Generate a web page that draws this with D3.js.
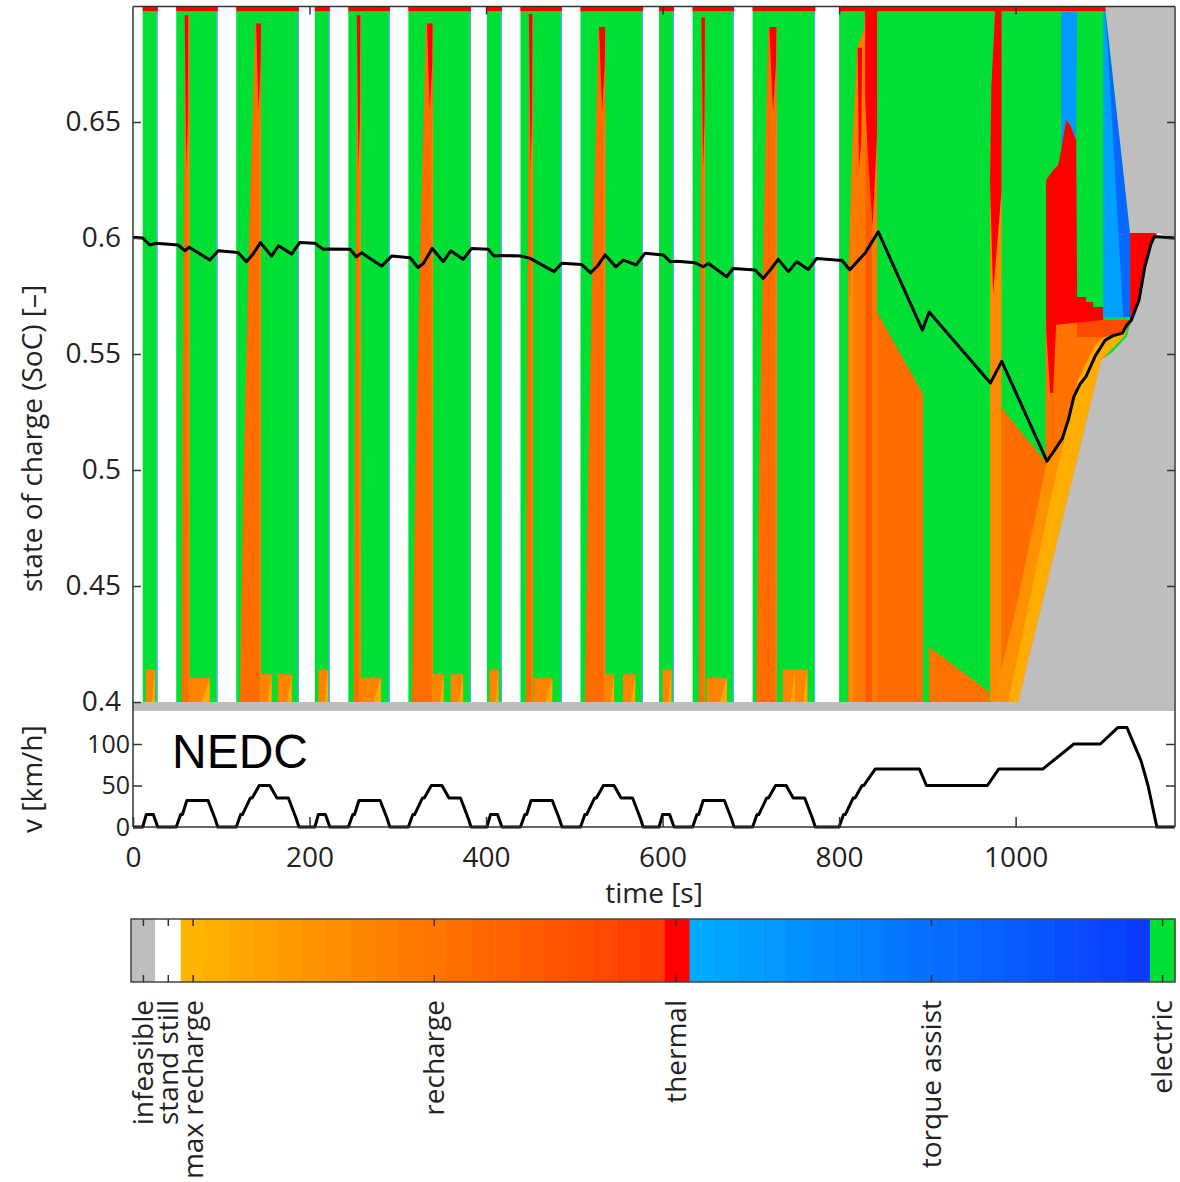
<!DOCTYPE html>
<html>
<head>
<meta charset="utf-8">
<title>Optimal mode map on the NEDC</title>
<script src="https://cdn.jsdelivr.net/npm/d3@7"></script>
<style>
    body { margin: 0; background: #fff; }
    text { font-family: "Open Sans", sans-serif; fill: #222; }
</style>
</head>
<body>
<script>

// NEDC speed profile, time [s] and speed [km/h]
var vTime = [
    0, 11, 15, 23, 28, 49, 54, 56, 61, 85, 93, 96, 117, 122, 124, 133, 135, 143, 155, 163, 176, 185, 188,
    195, 206, 210, 218, 223, 244, 249, 251, 256, 280, 288, 291, 312, 317, 319, 328, 330, 338, 350, 358, 371, 380, 383,
    390, 401, 405, 413, 418, 439, 444, 446, 451, 475, 483, 486, 507, 512, 514, 523, 525, 533, 545, 553, 566, 575, 578,
    585, 596, 600, 608, 613, 634, 639, 641, 646, 670, 678, 681, 702, 707, 709, 718, 720, 728, 740, 748, 761, 770, 773,
    780, 800, 805, 807, 816, 818, 826, 828, 841, 891, 899, 968, 981, 1031, 1066, 1096, 1116, 1126, 1142, 1150, 1160, 1180]
var vSpeed = [
    0, 0, 15, 15, 0, 0, 15, 15, 32, 32, 10, 0, 0, 15, 15, 35, 35, 50, 50, 35, 35, 10, 0,
    0, 0, 15, 15, 0, 0, 15, 15, 32, 32, 10, 0, 0, 15, 15, 35, 35, 50, 50, 35, 35, 10, 0,
    0, 0, 15, 15, 0, 0, 15, 15, 32, 32, 10, 0, 0, 15, 15, 35, 35, 50, 50, 35, 35, 10, 0,
    0, 0, 15, 15, 0, 0, 15, 15, 32, 32, 10, 0, 0, 15, 15, 35, 35, 50, 50, 35, 35, 10, 0,
    0, 0, 15, 15, 35, 35, 50, 50, 70, 70, 50, 50, 70, 70, 100, 100, 120, 120, 80, 50, 0, 0]

// optimal state of charge trajectory
var socTime = [
    0, 11, 19, 26, 51, 58.8, 63.7, 87, 96.6, 119, 128.5, 136, 144.5, 157, 165, 179.6, 189,
    206, 215.6, 223, 246, 253, 259, 281.6, 293, 314, 323, 329, 339, 351.5, 360, 374, 383.6,
    402.5, 409, 417.6, 440, 450, 477, 485.7, 508, 518.5, 526, 535, 547, 555.6, 570, 580,
    601, 608.5, 616, 637, 646, 652, 672.6, 680, 704.8, 714, 722, 731, 742.6, 752, 765, 774.6,
    803.4, 812, 820.5, 830, 844.3, 894.4, 902, 971.4, 984.3, 1035.5, 1044, 1052.8, 1060, 1066,
    1073, 1080, 1090, 1101.5, 1110, 1121, 1126, 1131, 1139.8, 1146.4, 1153, 1157, 1180]
var socValue = [
    0.6003, 0.6, 0.597, 0.5977, 0.597, 0.5945, 0.596, 0.5905, 0.5945, 0.5938, 0.5898, 0.5931, 0.598, 0.5922, 0.5967, 0.5931, 0.5981,
    0.5977, 0.5951, 0.5953, 0.5951, 0.5919, 0.5936, 0.5879, 0.5922, 0.5915, 0.5873, 0.589, 0.5955, 0.5898, 0.5945, 0.5908, 0.5955,
    0.5952, 0.5922, 0.5925, 0.5922, 0.5912, 0.5855, 0.5891, 0.5886, 0.585, 0.5878, 0.5927, 0.5876, 0.5905, 0.5884, 0.5934,
    0.5927, 0.5898, 0.59, 0.5893, 0.5876, 0.589, 0.5833, 0.5869, 0.5862, 0.5826, 0.5862, 0.5908, 0.5855, 0.5898, 0.5864, 0.5912,
    0.5903, 0.5863, 0.5898, 0.5938, 0.6027, 0.5603, 0.5681, 0.5375, 0.5468, 0.5038, 0.5085, 0.5135, 0.522, 0.5316,
    0.537, 0.5405, 0.549, 0.556, 0.5578, 0.559, 0.5625, 0.5645, 0.5733, 0.5876, 0.597, 0.6006, 0.6]

// urban part: recharge patches at low SoC [t start, t end, SoC top]
var lowPatches = [
    [14.6, 25, 0.4142], [61, 87, 0.4103], [145, 157, 0.412], [164, 180, 0.412],
    [210, 221, 0.414], [256, 281, 0.4103], [340, 352, 0.412], [360, 374, 0.412],
    [404, 414, 0.414], [454, 475, 0.4103], [535, 545, 0.412], [555, 569, 0.412],
    [600, 610, 0.414], [650, 673, 0.4103], [736, 750, 0.414], [750, 764, 0.414]]

// urban part: recharge spikes during accelerations
// [t bottom, t top, t end, SoC top, thermal t0, thermal t1, thermal lowest SoC]
var spikes = [
    [55, 59, 64, 0.696, 58.5, 62.5, 0.63], [121, 138.5, 145, 0.6925, 139.5, 145, 0.655],
    [250, 254, 258, 0.696, 253.5, 257.5, 0.63], [316, 332, 340, 0.6925, 333, 339.5, 0.655],
    [445, 449, 453, 0.6965, 448.5, 452.5, 0.63], [512, 527.5, 535, 0.691, 528, 535, 0.655],
    [641, 644.5, 648, 0.695, 644, 648, 0.63], [706, 719.7, 729.4, 0.6909, 721, 729, 0.655]]

// extra-urban part: mode regions [mode, level, [t, SoC] corners]
var eudcRegions = [
    ['recharge', 0.5, [[810, 0.4], [810, 0.58], [815, 0.64], [820.5, 0.682], [828.5, 0.69], [829.5, 0.6995], [843, 0.6995], [843, 0.4]]],
    ['recharge', 0.3, [[812, 0.4], [816, 0.4], [816, 0.6], [812, 0.57]]],
    ['recharge', 0.75, [[830, 0.4], [837, 0.4], [837, 0.64], [830, 0.64]]],
    ['thermal', 0, [[821, 0.682], [826, 0.682], [825, 0.64], [822.5, 0.63]]],
    ['thermal', 0, [[829.5, 0.6995], [843, 0.6995], [843, 0.645], [838, 0.605], [832, 0.64], [829.5, 0.66]]],
    ['recharge', 0.6, [[843, 0.4], [843, 0.568], [895, 0.5328], [895, 0.4]]],
    ['recharge', 0.55, [[902, 0.4], [902, 0.4237], [970, 0.4043], [970, 0.4]]],
    ['recharge', 0.35, [[971, 0.4], [971, 0.64], [984, 0.64], [984, 0.4]]],
    ['thermal', 0, [[977, 0.6995], [984, 0.6995], [984, 0.62], [974.5, 0.576], [971, 0.624], [972.5, 0.665]]],
    ['recharge', 0.6, [[984, 0.4], [984, 0.5267], [1035, 0.503], [1035, 0.4]]],
    ['recharge', 0.55, [[1034, 0.4], [1034, 0.565], [1103, 0.5647], [1103, 0.4]]],
    ['recharge', 0.3, [[975, 0.4], [991.5, 0.4], [1039.1, 0.4871], [1070.8, 0.5388], [1090, 0.5539], [1070, 0.537], [1052.8, 0.5135], [1035.5, 0.5038], [1000, 0.44]]],
    ['recharge', 0.05, [[991.5, 0.4], [1002.8, 0.4], [1096.9, 0.5474], [1124, 0.558], [1127.5, 0.5625], [1120.7, 0.559], [1100.3, 0.5573], [1090, 0.5539], [1070.8, 0.5388], [1039.1, 0.4871]]],
    ['recharge', 0.9, [[1069.7, 0.5647], [1129.7, 0.5647], [1129.7, 0.5625], [1120.7, 0.559], [1100.3, 0.5573], [1069.7, 0.5573]]],
    ['torque', 0.15, [[1051.6, 0.6975], [1069.7, 0.6975], [1068.6, 0.6422], [1061.8, 0.6487], [1057.2, 0.6509], [1051.6, 0.6379]]],
    ['thermal', 0, [[1034.6, 0.625], [1042.5, 0.6293], [1048.2, 0.6315], [1051.6, 0.6379], [1057.2, 0.6509], [1061.8, 0.6487],
        [1068.6, 0.6422], [1069.7, 0.5746], [1079.9, 0.5746], [1079.9, 0.5724], [1087.8, 0.5724], [1087.8, 0.5703],
        [1099.2, 0.5703], [1099.2, 0.5647], [1045.9, 0.5626], [1042.5, 0.5332], [1039.1, 0.5332], [1034.6, 0.5603]]],
    ['torque', 0.1, [[1099.2, 0.6983], [1101.5, 0.6983], [1129.7, 0.6022], [1129.7, 0.5659], [1099.2, 0.5659]]],
    ['torque', 0.6, [[1101.5, 0.6983], [1129.7, 0.6022], [1129.7, 0.5659], [1122, 0.5659], [1104, 0.685]]],
    ['thermal', 0, [[1129.7, 0.6022], [1160, 0.6022], [1157, 0.6006], [1146.4, 0.5876], [1139.8, 0.5733], [1131, 0.5645], [1129.7, 0.5645]]]
]

// infeasible SoC regions
var infeasibleRegions = [
    [[0, 0.3961], [1180, 0.3961], [1180, 0.4], [0, 0.4]],
    [[1002.8, 0.3961], [1002.8, 0.4], [1096.9, 0.5474], [1110, 0.551], [1126, 0.5575], [1131, 0.5645], [1139.8, 0.5733],
        [1146.4, 0.5876], [1153, 0.597], [1157, 0.6006], [1180, 0.6], [1180, 0.3961]],
    [[1101.5, 0.6998], [1180, 0.6998], [1180, 0.6], [1160, 0.6022], [1129.7, 0.6022]]
]

// colour bar blocks and tick labels
var cbBlocks = [['infeasible', 0, 0.97, 1], ['still', 0.97, 2, 1], ['recharge', 2, 21.47, 20],
    ['thermal', 21.47, 22.47, 1], ['torque', 22.47, 41, 19], ['electric', 41, 42, 1]]
var cbTickValues = [0.5, 1.5, 2.5, 12.2, 21.93, 32.2, 41.5]
var cbTickLabels = ['infeasible', 'stand still', 'max recharge', 'recharge', 'thermal', 'torque assist', 'electric']

var socTicks = [0.4, 0.45, 0.5, 0.55, 0.6, 0.65]
var vTicks = [0, 50, 100]
var timeTicks = [0, 200, 400, 600, 800, 1000]

var view_width = 1180,
    view_height = 1182

var rechargeColor = d3.interpolateRgb('#ffb400', '#ff3c00')
var torqueColor = d3.interpolateRgb('#00aaff', '#0a3cff')

function modeColor(mode, level) {
    if (mode == 'infeasible') return '#bebebe'
    if (mode == 'still') return '#ffffff'
    if (mode == 'recharge') return rechargeColor(level)
    if (mode == 'thermal') return '#ff0000'
    if (mode == 'torque') return torqueColor(level)
    return '#00e034'
}

var svg = d3.select('body').append('svg')
    .attr('width', view_width)
    .attr('height', view_height)

var x = d3.scaleLinear().domain([0, 1180]).range([133, 1174.5])
var ySoc = d3.scaleLinear().domain([0.4, 0.65]).range([702, 122])
var yV = d3.scaleLinear().domain([0, 100]).range([827, 744])

var socTop = 0.6998, socBottom = 0.3961

svg.append('clipPath').attr('id', 'mapclip')
    .append('rect')
    .attr('x', x(0)).attr('y', ySoc(socTop))
    .attr('width', x(1180) - x(0)).attr('height', ySoc(socBottom) - ySoc(socTop))

var map = svg.append('g').attr('clip-path', 'url(#mapclip)')

var poly = d3.line().x(function (d) { return x(d[0]) }).y(function (d) { return ySoc(d[1]) })

// moving / standing intervals from the speed profile
var intervals = []
for (var i = 0; i < vTime.length - 1; i++) {
    var still = vSpeed[i] == 0 && vSpeed[i + 1] == 0
    var last = intervals[intervals.length - 1]
    if (last && last.still == still) last.t1 = vTime[i + 1]
    else intervals.push({ t0: vTime[i], t1: vTime[i + 1], still: still })
}
var moving = intervals.filter(function (d) { return !d.still })

map.selectAll('rect.interval').data(intervals).join('rect')
    .attr('class', 'interval')
    .attr('x', function (d) { return x(d.t0) })
    .attr('width', function (d) { return x(d.t1) - x(d.t0) })
    .attr('y', ySoc(socTop))
    .attr('height', ySoc(0.4) - ySoc(socTop))
    .attr('fill', function (d) { return d.still ? modeColor('still') : modeColor('electric') })

// thin torque assist edge at the end of each urban stop
map.selectAll('line.edge').data(moving.filter(function (d) { return d.t1 < 780 })).join('line')
    .attr('class', 'edge')
    .attr('x1', function (d) { return x(d.t1) - 0.7 })
    .attr('x2', function (d) { return x(d.t1) - 0.7 })
    .attr('y1', ySoc(socTop)).attr('y2', ySoc(0.4))
    .attr('stroke', '#5aaef5').attr('stroke-width', 1.2)

// low SoC recharge patches
map.selectAll('path.patch').data(lowPatches).join('path')
    .attr('class', 'patch')
    .attr('d', function (d) { return poly([[d[0], 0.4], [d[1], 0.4], [d[1], d[2]], [d[0], d[2]]]) + 'Z' })
    .attr('fill', rechargeColor(0.4))
map.selectAll('path.patchmax').data(lowPatches).join('path')
    .attr('class', 'patchmax')
    .attr('d', function (d) { return poly([[d[1] - 0.35 * (d[1] - d[0]), 0.4], [d[1], 0.4], [d[1], d[2]]]) + 'Z' })
    .attr('fill', rechargeColor(0.08))

// recharge spikes with thermal tips
map.selectAll('path.spike').data(spikes).join('path')
    .attr('class', 'spike')
    .attr('d', function (d) {
        var w = d[1] - d[0]
        return poly([[d[0], 0.4], [d[2], 0.4], [d[2], d[3]], [d[1], d[3]],
            [d[0] + 0.6 * w, 0.6], [d[0] + 0.25 * w, 0.5]]) + 'Z'
    })
    .attr('fill', rechargeColor(0.6))
map.selectAll('path.spikelight').data(spikes).join('path')
    .attr('class', 'spikelight')
    .attr('d', function (d) {
        return poly([[d[2] - 1.6, 0.4], [d[2], 0.4], [d[2], 0.66], [d[2] - 1.6, 0.64]]) + 'Z'
    })
    .attr('fill', rechargeColor(0.4))
map.selectAll('path.spiketip').data(spikes).join('path')
    .attr('class', 'spiketip')
    .attr('d', function (d) {
        return poly([[d[4], d[3]], [d[5], d[3]], [d[5] - 0.5, d[6] + 0.02], [(d[4] + d[5]) / 2, d[6]]]) + 'Z'
    })
    .attr('fill', modeColor('thermal'))

// extra-urban regions
map.selectAll('path.eudc').data(eudcRegions).join('path')
    .attr('class', 'eudc')
    .attr('d', function (d) { return poly(d[2]) + 'Z' })
    .attr('fill', function (d) { return modeColor(d[0], d[1]) })

// thermal strip at the highest SoC while driving
map.selectAll('rect.topstrip').data(moving).join('rect')
    .attr('class', 'topstrip')
    .attr('x', function (d) { return x(d.t0) })
    .attr('width', function (d) { return x(d.t1) - x(d.t0) })
    .attr('y', ySoc(socTop))
    .attr('height', ySoc(0.6978) - ySoc(socTop))
    .attr('fill', modeColor('thermal'))

map.selectAll('path.infeasible').data(infeasibleRegions).join('path')
    .attr('class', 'infeasible')
    .attr('d', function (d) { return poly(d) + 'Z' })
    .attr('fill', modeColor('infeasible'))

// SoC trajectory
var socLine = d3.line()
    .x(function (d, i) { return x(socTime[i]) })
    .y(function (d) { return ySoc(d) })
map.append('path')
    .attr('d', socLine(socValue))
    .attr('fill', 'none')
    .attr('stroke', 'black')
    .attr('stroke-width', 3)
    .attr('stroke-linejoin', 'round')

// speed profile
var vLine = d3.line()
    .x(function (d, i) { return x(vTime[i]) })
    .y(function (d) { return yV(d) })
svg.append('path')
    .attr('d', vLine(vSpeed))
    .attr('fill', 'none')
    .attr('stroke', 'black')
    .attr('stroke-width', 3)
    .attr('stroke-linejoin', 'round')

// frame
var frame = svg.append('g').attr('stroke', '#333').attr('stroke-width', 1.5)
frame.append('line').attr('x1', 133).attr('y1', ySoc(socTop)).attr('x2', 1175).attr('y2', ySoc(socTop))
frame.append('line').attr('x1', 133).attr('y1', ySoc(socTop)).attr('x2', 133).attr('y2', yV(0))
frame.append('line').attr('x1', 1175).attr('y1', ySoc(socTop)).attr('x2', 1175).attr('y2', yV(0))
frame.append('line').attr('x1', 133).attr('y1', yV(0)).attr('x2', 1175).attr('y2', yV(0))

function styleAxis(g, size) {
    g.select('.domain').remove()
    g.selectAll('.tick line').attr('stroke', '#333').attr('stroke-width', 1.5)
    g.selectAll('text').attr('font-size', size).attr('font-family', '"Open Sans", sans-serif').attr('fill', '#222')
    g.attr('font-family', null).attr('font-size', null)
}

svg.append('g').attr('transform', 'translate(133,0)')
    .call(d3.axisLeft(ySoc).tickValues(socTicks).tickSize(-8).tickPadding(12)
        .tickFormat(function (d) { return String(d) }))
    .call(styleAxis, 28)
svg.append('g').attr('transform', 'translate(1175,0)')
    .call(d3.axisRight(ySoc).tickValues(socTicks.slice(1)).tickSize(-8).tickFormat(''))
    .call(styleAxis, 28)
svg.append('g').attr('transform', 'translate(0,' + ySoc(socTop) + ')')
    .call(d3.axisTop(x).tickValues(timeTicks.slice(1)).tickSize(-8).tickFormat(''))
    .call(styleAxis, 28)

svg.append('g').attr('transform', 'translate(133,0)')
    .call(d3.axisLeft(yV).tickValues(vTicks).tickSize(-9).tickPadding(3))
    .call(styleAxis, 25)
svg.append('g').attr('transform', 'translate(1175,0)')
    .call(d3.axisRight(yV).tickValues(vTicks.slice(1)).tickSize(-9).tickFormat(''))
    .call(styleAxis, 25)
svg.append('g').attr('transform', 'translate(0,' + yV(0) + ')')
    .call(d3.axisBottom(x).tickValues(timeTicks).tickSize(-10).tickPadding(20)
        .tickFormat(d3.format('d')))
    .call(styleAxis, 28)

// axis titles
svg.append('text')
    .attr('transform', 'translate(32,592) rotate(-90)')
    .attr('dy', '0.35em')
    .attr('font-size', 28)
    .text('state of charge (SoC) [–]')
svg.append('text')
    .attr('transform', 'translate(32,833) rotate(-90)')
    .attr('dy', '0.35em')
    .attr('font-size', 28)
    .text('v [km/h]')
svg.append('text')
    .attr('x', 654).attr('y', 903)
    .attr('text-anchor', 'middle')
    .attr('font-size', 28)
    .text('time [s]')
svg.append('text')
    .attr('x', 172).attr('y', 768)
    .attr('font-size', 48)
    .style('font-family', '"Liberation Sans", Arial, sans-serif')
    .style('fill', '#000')
    .text('NEDC')

// colour bar
var cb = d3.scaleLinear().domain([0, 42]).range([131, 1175])
var cbTop = 919, cbBottom = 982
var cbCells = []
cbBlocks.forEach(function (b) {
    for (var k = 0; k < b[3]; k++) {
        cbCells.push({
            from: b[1] + (b[2] - b[1]) * k / b[3],
            to: b[1] + (b[2] - b[1]) * (k + 1) / b[3],
            color: modeColor(b[0], b[3] > 1 ? k / (b[3] - 1) : 0)
        })
    }
})
var cbG = svg.append('g')
cbG.selectAll('rect').data(cbCells).join('rect')
    .attr('x', function (d) { return cb(d.from) })
    .attr('width', function (d) { return cb(d.to) - cb(d.from) + 0.5 })
    .attr('y', cbTop).attr('height', cbBottom - cbTop)
    .attr('fill', function (d) { return d.color })
cbG.append('rect')
    .attr('x', cb(0)).attr('y', cbTop)
    .attr('width', cb(42) - cb(0)).attr('height', cbBottom - cbTop)
    .attr('fill', 'none').attr('stroke', '#444').attr('stroke-width', 1.5)
cbG.selectAll('line.t1').data(cbTickValues).join('line')
    .attr('x1', cb).attr('x2', cb).attr('y1', cbTop).attr('y2', cbTop + 7)
    .attr('stroke', '#333').attr('stroke-width', 1.5)
cbG.selectAll('line.t2').data(cbTickValues).join('line')
    .attr('x1', cb).attr('x2', cb).attr('y1', cbBottom - 7).attr('y2', cbBottom)
    .attr('stroke', '#333').attr('stroke-width', 1.5)
cbG.selectAll('text').data(cbTickValues).join('text')
    .attr('transform', function (d) { return 'translate(' + cb(d) + ',1000) rotate(-90)' })
    .attr('text-anchor', 'end')
    .attr('dy', '0.35em')
    .attr('font-size', 28)
    .text(function (d, i) { return cbTickLabels[i] })

</script>
</body>
</html>
